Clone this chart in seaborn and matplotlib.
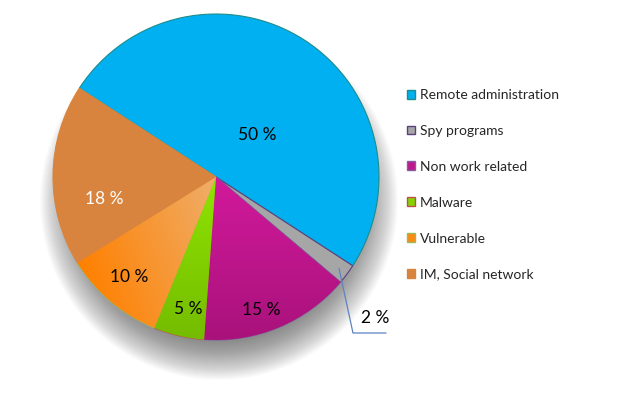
import numpy as np
import matplotlib.pyplot as plt
from matplotlib.patches import Patch, Circle
import seaborn as sns

# data
categories = ["Remote administration", "Spy programs", "Non work related",
              "Malware", "Vulnerable", "IM, Social network"]
shares = [50, 2, 15, 5, 10, 18]
pct_labels = ["50 %", "2 %", "15 %", "5 %", "10 %", "18 %"]

# style
face = ["#00B0F0", "#A6A6A6", "#C0168C", "#84D400", "#FF8A10", "#D9843E"]
edge = ["#1E8C8C", "#5B3F80", "#8060A0", "#C0504D", "#9BBB59", "#D9843E"]
gradients = {2: ("#D2199C", "#A8127A", (0, -1)),
             3: ("#8FE400", "#74BC00", (0, -1)),
             4: ("#FF8000", "#EFAE6A", (1, 0.35))}
label_polar = [(46, 0.36), None, (-71, 0.86), (-102, 0.83), (-131, 0.81), (-169, 0.70)]
label_color = ["black", "black", "black", "black", "black", "white"]

sns.set_theme(style="white")
plt.rcParams['font.family'] = ['Lato', 'DejaVu Sans']

W, H = 632, 396
fig = plt.figure(figsize=(6.32, 3.96), dpi=100)
ax = fig.add_axes([0, 0, 1, 1])

cx, cy, R = 216, H - 177, 163

# soft drop shadow from stacked translucent discs
for r in np.arange(R + 16, R - 30, -1):
    ax.add_patch(Circle((cx + 3, cy - 24), r, facecolor="#404040",
                        edgecolor='none', alpha=0.02, zorder=0.5))

wedges, _ = ax.pie(shares, colors=face, startangle=147, counterclock=False,
                   center=(cx, cy), radius=R, frame=True,
                   wedgeprops=dict(linewidth=0.8))
for w, ec in zip(wedges, edge):
    w.set_edgecolor(ec)
    w.set_zorder(2)

# gradient fills clipped to wedges
xx, yy = np.meshgrid(np.arange(W) + 0.5, np.arange(H) + 0.5)
for i, (c1, c2, direc) in gradients.items():
    w = wedges[i]
    v = w.get_path().vertices
    dv = np.array(direc, float)
    dv /= np.linalg.norm(dv)
    proj = v @ dv
    t = ((xx * dv[0] + yy * dv[1]) - proj.min()) / (proj.max() - proj.min())
    t = np.clip(t, 0, 1)[..., None]
    a = np.array(plt.matplotlib.colors.to_rgb(c1))
    b = np.array(plt.matplotlib.colors.to_rgb(c2))
    img = a * (1 - t) + b * t
    im = ax.imshow(img, extent=[0, W, 0, H], origin='lower', zorder=2.5)
    im.set_clip_path(w)

# percent labels
for i, w in enumerate(wedges):
    if label_polar[i] is None:
        continue
    ang, f = label_polar[i]
    x = cx + f * R * np.cos(np.radians(ang))
    y = cy + f * R * np.sin(np.radians(ang))
    ax.text(x, y, pct_labels[i], ha='center', va='center', fontsize=12.5,
            color=label_color[i], zorder=5)

# leader line for small slice
w = wedges[1]
mid = np.radians((w.theta1 + w.theta2) / 2)
x0, y0 = cx + 0.94 * R * np.cos(mid), cy + 0.94 * R * np.sin(mid)
ax.plot([x0, 353, 386], [y0, H - 333, H - 333], color="#5B83C2", lw=0.9, zorder=5)
ax.text(375, H - 318, pct_labels[1], ha='center', va='center', fontsize=12.5,
        color='black', zorder=5)

handles = [Patch(facecolor=f, edgecolor=e, linewidth=1.0) for f, e in zip(face, edge)]
ax.legend(handles, categories, loc='upper left', bbox_to_anchor=(407 / W, (H - 89) / H),
          frameon=False, fontsize=10, handlelength=0.6, handleheight=0.6,
          handletextpad=0.3, labelspacing=1.72, borderpad=0, borderaxespad=0)

ax.set_xlim(0, W)
ax.set_ylim(0, H)
ax.set_aspect('equal')
ax.axis('off')

fig.savefig("out.png", dpi=100, facecolor='white')
